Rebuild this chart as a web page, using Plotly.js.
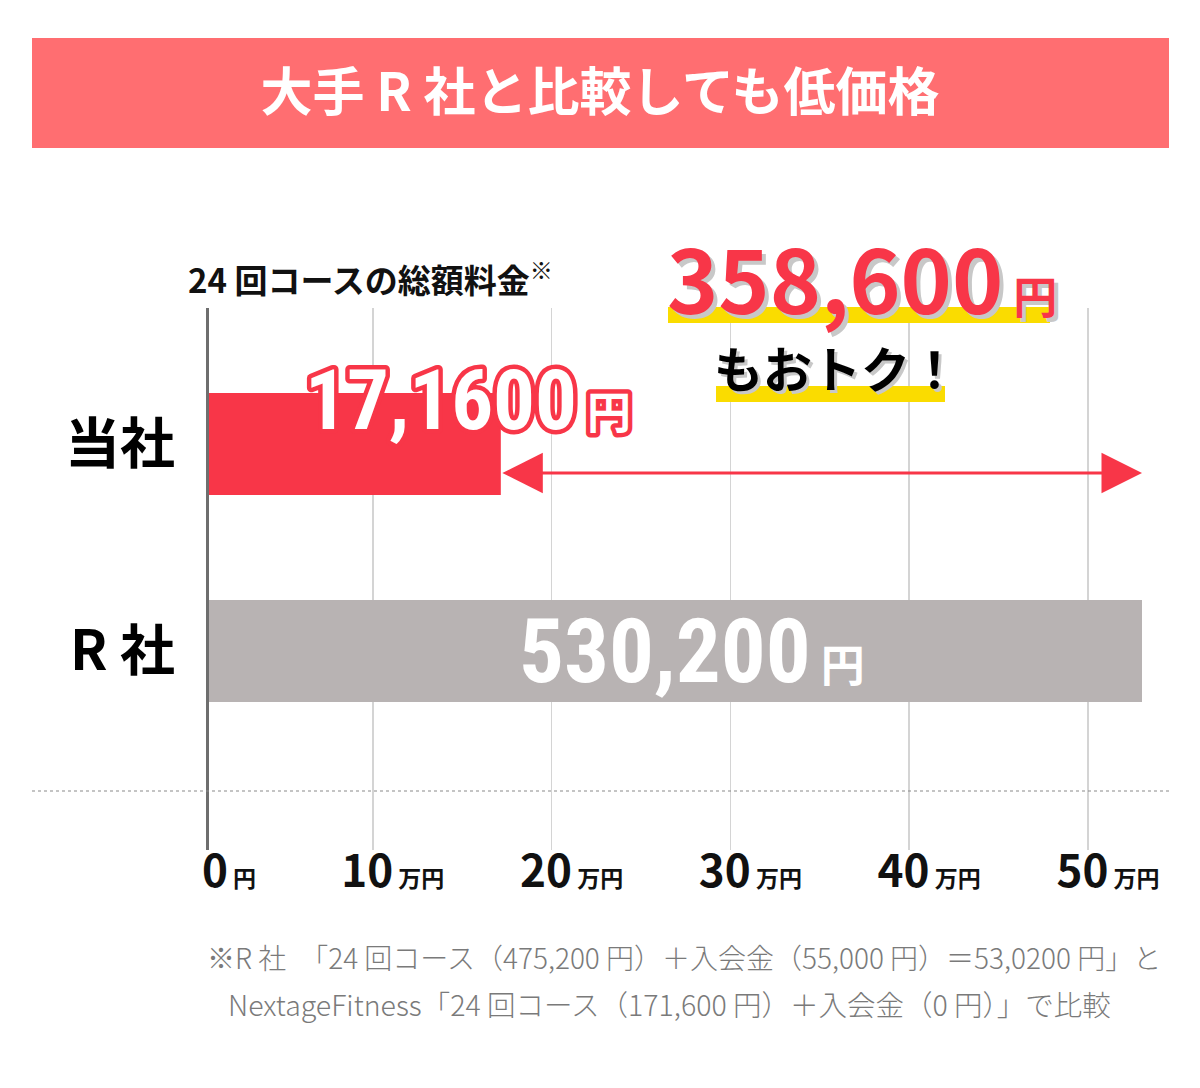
<!DOCTYPE html>
<html>
<head>
<meta charset="utf-8">
<script src="https://cdn.plot.ly/plotly-3.0.1.min.js"></script>
<style>html,body{margin:0;padding:0;background:#fff;}</style>
</head>
<body>
<div id="chart" style="width:1200px;height:1088px;"></div>
<script>
// ---- data ----
const categories = ['当社', 'R 社'];
const totalsYen = [171600, 530200];
const displayAmounts = ['17,1600', '530,200'];
const xTickValues = [0, 10, 20, 30, 40, 50];
const xTickNums = ['0', '10', '20', '30', '40', '50'];
const xTickUnits = ['円', '万円', '万円', '万円', '万円', '万円'];
const headline = '大手 R 社と比較しても低価格';
const subtitle = '24 回コースの総額料金';
const savingsTail = 'もおトク！';
const footnoteLines = [
  '※R 社　「24 回コース（475,200 円）＋入会金（55,000 円）＝53,0200 円」と',
  'NextageFitness「24 回コース（171,600 円）＋入会金（0 円）」で比較'
];

// ---- derived ----
const valuesMan = totalsYen.map(v => v / 10000);
const savings = totalsYen[1] - totalsYen[0];
const savingsText = savings.toLocaleString('en-US');

// ---- layout helpers ----
const W = 1200, H = 1088;
const M = {l: 209, r: 31, t: 308, b: 238};
const PW = W - M.l - M.r, PH = H - M.t - M.b;
const px = x => (x - M.l) / PW;
const py = y => (H - M.b - y) / PH;
const pxPerUnit = 17.88;
const xMin = 15 / pxPerUnit;
const xMax = xMin + PW / pxPerUnit;

const CJK = 'Noto Sans CJK JP, sans-serif';
const COND = 'Roboto Condensed, Noto Sans CJK JP, sans-serif';
const RED = '#F83648';
const GREY_BAR = '#B8B3B3';
const YELLOW = '#FADC00';
const YEN = '<span style="font-size:44px;font-family:Noto Sans CJK JP;font-weight:bold"> 円</span>';

const trace = {
  type: 'bar',
  orientation: 'h',
  y: categories,
  x: valuesMan,
  width: 0.493,
  marker: {color: [RED, GREY_BAR], line: {width: 0}},
  hoverinfo: 'skip',
  textposition: 'none',
  cliponaxis: true
};

const tickText = xTickNums.map((n, i) =>
  n + '<span style="font-size:23px;font-family:Noto Sans CJK JP;font-weight:bold"> ' + xTickUnits[i] + '</span>');

const annotations = [
  // subtitle
  {xref: 'paper', yref: 'paper', x: px(186), y: py(277), xanchor: 'left', yanchor: 'middle',
   text: subtitle + '<sup>※</sup>', showarrow: false,
   font: {family: CJK, size: 33, color: '#111', weight: 'bold'}},
  // savings amount
  {xref: 'paper', yref: 'paper', x: px(862), y: py(276), xanchor: 'center', yanchor: 'middle',
   text: savingsText + YEN, showarrow: false,
   font: {family: CJK, size: 87, color: RED, weight: 'bold', shadow: '4px 4px 0px #c8c8c8'}},
  // もおトク！
  {xref: 'paper', yref: 'paper', x: px(836), y: py(366), xanchor: 'center', yanchor: 'middle',
   text: savingsTail, showarrow: false,
   font: {family: CJK, size: 49, color: '#000', weight: 'bold', shadow: '3px 3px 0px #c8c8c8'}},
  // 当社 amount (outlined)
  {xref: 'x', yref: 'y', x: valuesMan[0], y: categories[0], xanchor: 'center', yanchor: 'middle',
   xshift: -33, yshift: 44,
   text: displayAmounts[0] + YEN, showarrow: false,
   font: {family: COND, size: 83, color: '#ffffff', weight: 'bold'}},
  // R社 amount inside bar
  {xref: 'x', yref: 'y', x: valuesMan[1] / 2, y: categories[1], xanchor: 'center', yanchor: 'middle',
   xshift: 24, yshift: 0,
   text: displayAmounts[1] + YEN, showarrow: false,
   font: {family: COND, size: 89, color: '#ffffff', weight: 'bold'}},
  // difference arrow
  {xref: 'x', yref: 'y', axref: 'x', ayref: 'y',
   x: valuesMan[1], y: 0.14, ax: valuesMan[0], ay: 0.14,
   text: '', showarrow: true, arrowhead: 2, startarrowhead: 2, arrowside: 'end+start',
   arrowsize: 2.7, startarrowsize: 2.7, arrowwidth: 3, arrowcolor: RED, standoff: 0, startstandoff: 0},
  // footnotes
  {xref: 'paper', yref: 'paper', x: px(684), y: py(957), xanchor: 'center', yanchor: 'middle',
   text: footnoteLines[0], showarrow: false,
   font: {family: CJK, size: 28, color: '#7a7a7a', weight: 300}},
  {xref: 'paper', yref: 'paper', x: px(669), y: py(1003), xanchor: 'center', yanchor: 'middle',
   text: footnoteLines[1], showarrow: false,
   font: {family: CJK, size: 28.5, color: '#7a7a7a', weight: 300}}
];

const shapes = [
  {type: 'rect', xref: 'paper', yref: 'paper', x0: px(32), x1: px(1169), y0: py(148), y1: py(38),
   fillcolor: '#FF6E71', line: {width: 0}, layer: 'below'},
  {type: 'rect', xref: 'paper', yref: 'paper', x0: px(668), x1: px(1050), y0: py(323), y1: py(307),
   fillcolor: YELLOW, line: {width: 0}, layer: 'above'},
  {type: 'rect', xref: 'paper', yref: 'paper', x0: px(716), x1: px(945), y0: py(402), y1: py(386),
   fillcolor: YELLOW, line: {width: 0}, layer: 'above'},
  {type: 'line', xref: 'paper', yref: 'paper', x0: px(32), x1: px(1169), y0: py(791), y1: py(791),
   line: {color: '#8a8a8a', width: 1.2, dash: 'dot'}, layer: 'above'}
];

const layout = {
  width: W, height: H,
  margin: M,
  paper_bgcolor: '#ffffff', plot_bgcolor: '#ffffff',
  showlegend: false,
  title: {text: headline, x: 0.5, xanchor: 'center', xref: 'container',
          y: 1 - 93 / H, yanchor: 'middle', yref: 'container',
          font: {family: CJK, size: 52, color: '#ffffff', weight: 'bold'}},
  xaxis: {
    range: [xMin, xMax],
    tickmode: 'array',
    tickvals: xTickValues.map(v => Math.max(v, xMin + 0.0001)),
    ticktext: tickText,
    tickfont: {family: CJK, size: 44, color: '#111', weight: 'bold'},
    ticklabelshift: 20,
    ticklabelstandoff: -8,
    ticks: '', showgrid: true, gridcolor: '#d4d4d4', gridwidth: 1.5,
    zeroline: false, showline: false, fixedrange: true
  },
  yaxis: {
    type: 'category',
    range: [1.961, -0.657],
    showline: true, linecolor: '#6e6e6e', linewidth: 3,
    showgrid: false, zeroline: false, ticks: '',
    ticklabelstandoff: 20,
    tickfont: {family: CJK, size: 55, color: '#000', weight: 'bold'},
    fixedrange: true
  },
  annotations: annotations,
  shapes: shapes
};

Plotly.newPlot('chart', [trace], layout, {staticPlot: true}).then(() => {
  document.querySelectorAll('.annotation').forEach(g => {
    if (g.getAttribute('data-index') === '3') {
      const t = g.querySelector('text');
      if (t) {
        t.style.stroke = RED;
        t.style.strokeWidth = '9px';
        t.style.paintOrder = 'stroke';
        t.style.strokeLinejoin = 'round';
      }
    }
  });
});
</script>
</body>
</html>
